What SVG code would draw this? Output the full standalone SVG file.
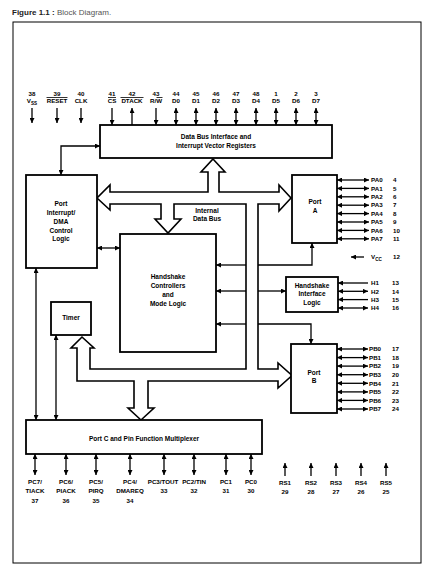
<svg xmlns="http://www.w3.org/2000/svg" width="429" height="577" viewBox="0 0 429 577">
<defs>
<marker id="ah" viewBox="0 0 10 10" refX="10" refY="5" markerWidth="5.5" markerHeight="5" markerUnits="userSpaceOnUse" orient="auto-start-reverse"><path d="M0,0 L10,5 L0,10 z" fill="#000"/></marker>
<style>
.box{fill:#fff;stroke:#000;stroke-width:1.8}
.bus{fill:#fff;stroke:#000;stroke-width:1.6;stroke-linejoin:miter}
.ln{fill:none;stroke:#000;stroke-width:1.3}
.ae{marker-end:url(#ah)}
.as{marker-start:url(#ah)}
.t{font-family:"Liberation Sans",Arial,sans-serif;font-weight:bold;font-size:6.5px;fill:#000;text-anchor:middle}
.p{font-family:"Liberation Sans",Arial,sans-serif;font-weight:bold;font-size:6.2px;fill:#000}
.m{text-anchor:middle}
.ov{stroke:#000;stroke-width:0.8}
</style>
</defs>
<rect width="429" height="577" fill="#fff"/>
<g id="title">
<text x="12" y="15" font-family="Liberation Sans,Arial,sans-serif" font-size="8" fill="#222"><tspan font-weight="bold">Figure 1.1 :</tspan><tspan fill="#555"> Block Diagram.</tspan></text>
</g>
<rect id="frame" x="13" y="22" width="408" height="541" fill="none" stroke="#000" stroke-width="1"/>

<g id="connectors">
<path class="bus" d="M213,159 L225,172 L219,172 L219,192 L279,192 L279,185 L291,198 L279,211 L279,204 L258,204 L258,369 L278,369 L278,363 L292,375.5 L278,388 L278,381 L148,381 L148,408 L154,408 L141,420 L128,408 L134,408 L134,381 L77,381 L77,348 L71,348 L82,337 L94,348 L90,348 L90,369 L246,369 L246,204 L174,204 L174,219 L181,219 L168,233 L155,219 L161,219 L161,204 L110,204 L110,210 L97,198 L110,185 L110,192 L208,192 L208,172 L201,172 Z"/>
<path class="ln ae as" d="M61,175 V146 H100"/>
<line class="ln ae as" x1="97" y1="248" x2="120" y2="248"/>
<line class="ln ae as" x1="36" y1="268" x2="36" y2="420"/>
<line class="ln ae as" x1="56" y1="335" x2="56" y2="420"/>
<line class="ln ae" x1="246" y1="265" x2="216" y2="265"/>
<line class="ln ae" x1="246" y1="291" x2="216" y2="291"/>
<line class="ln ae" x1="246" y1="324" x2="216" y2="324"/>
<path class="ln ae" d="M258,265 H312 V243"/>
<line class="ln ae" x1="258" y1="291" x2="286" y2="291"/>
<path class="ln ae" d="M258,324 H311 V344"/>
</g>

<g id="node-databus">
<rect class="box" x="100" y="125" width="232" height="33"/>
<text class="t" x="216" y="139">Data Bus Interface and</text>
<text class="t" x="216" y="147.5">Interrupt Vector Registers</text>
</g>
<g id="node-portint">
<rect class="box" x="26" y="175" width="71" height="93"/>
<text class="t" x="61" y="206">Port</text>
<text class="t" x="61" y="215">Interrupt/</text>
<text class="t" x="61" y="224">DMA</text>
<text class="t" x="61" y="233">Control</text>
<text class="t" x="61" y="241">Logic</text>
</g>
<g id="label-internal-bus">
<text class="t" x="207" y="213">Internal</text>
<text class="t" x="207" y="221">Data Bus</text>
</g>
<g id="node-hc">
<rect class="box" x="120" y="234" width="96" height="118"/>
<text class="t" x="168" y="279">Handshake</text>
<text class="t" x="168" y="288">Controllers</text>
<text class="t" x="168" y="297">and</text>
<text class="t" x="168" y="305.5">Mode Logic</text>
</g>
<g id="node-porta">
<rect class="box" x="292" y="175" width="45" height="68"/>
<text class="t" x="315" y="204">Port</text>
<text class="t" x="315" y="213">A</text>
</g>
<g id="node-hil">
<rect class="box" x="286" y="277" width="52" height="35"/>
<text class="t" x="312" y="288">Handshake</text>
<text class="t" x="312" y="296">Interface</text>
<text class="t" x="312" y="305">Logic</text>
</g>
<g id="node-portb">
<rect class="box" x="291" y="344" width="46" height="69"/>
<text class="t" x="314" y="375">Port</text>
<text class="t" x="314" y="383">B</text>
</g>
<g id="node-timer">
<rect class="box" x="51" y="302" width="40" height="33"/>
<text class="t" x="71" y="320">Timer</text>
</g>
<g id="node-portc">
<rect class="box" x="26" y="420" width="236" height="34"/>
<text class="t" x="144" y="441">Port C and Pin Function Multiplexer</text>
</g>

<g id="pins-top">
<g class="ln">
<line class="ae" x1="32" y1="108" x2="32" y2="123"/>
<line class="ae" x1="57" y1="108" x2="57" y2="123"/>
<line class="ae" x1="81" y1="108" x2="81" y2="123"/>
<line class="ae" x1="112" y1="108" x2="112" y2="125"/>
<line class="ae" x1="132" y1="125" x2="132" y2="108"/>
<line class="ae" x1="156" y1="108" x2="156" y2="125"/>
<line class="ae as" x1="176" y1="108" x2="176" y2="125"/>
<line class="ae as" x1="196" y1="108" x2="196" y2="125"/>
<line class="ae as" x1="216" y1="108" x2="216" y2="125"/>
<line class="ae as" x1="236" y1="108" x2="236" y2="125"/>
<line class="ae as" x1="256" y1="108" x2="256" y2="125"/>
<line class="ae as" x1="276" y1="108" x2="276" y2="125"/>
<line class="ae as" x1="296" y1="108" x2="296" y2="125"/>
<line class="ae as" x1="316" y1="108" x2="316" y2="125"/>
</g>
<g class="p m">
<text x="32" y="96">38</text><text x="57" y="96">39</text><text x="81" y="96">40</text>
<text x="112" y="96">41</text><text x="132" y="96">42</text><text x="156" y="96">43</text>
<text x="176" y="96">44</text><text x="196" y="96">45</text><text x="216" y="96">46</text>
<text x="236" y="96">47</text><text x="256" y="96">48</text><text x="276" y="96">1</text>
<text x="296" y="96">2</text><text x="316" y="96">3</text>
<text x="32" y="103">V<tspan font-size="4.6" dy="1.5">SS</tspan></text>
<text x="57" y="103">RESET</text><text x="81" y="103">CLK</text>
<text x="112" y="103">CS</text><text x="132" y="103">DTACK</text><text x="156" y="103">R/W</text>
<text x="176" y="103">D0</text><text x="196" y="103">D1</text><text x="216" y="103">D2</text>
<text x="236" y="103">D3</text><text x="256" y="103">D4</text><text x="276" y="103">D5</text>
<text x="296" y="103">D6</text><text x="316" y="103">D7</text>
</g>
<line class="ov" x1="46.5" y1="97.5" x2="67.5" y2="97.5"/>
<line class="ov" x1="108" y1="97.5" x2="116" y2="97.5"/>
<line class="ov" x1="120.5" y1="97.5" x2="143.5" y2="97.5"/>
<line class="ov" x1="156.5" y1="97.5" x2="162.5" y2="97.5"/>
</g>

<g id="pins-pa">
<g class="ln">
<line class="ae as" x1="337" y1="180" x2="369" y2="180"/>
<line class="ae as" x1="337" y1="188.4" x2="369" y2="188.4"/>
<line class="ae as" x1="337" y1="196.8" x2="369" y2="196.8"/>
<line class="ae as" x1="337" y1="205.2" x2="369" y2="205.2"/>
<line class="ae as" x1="337" y1="213.6" x2="369" y2="213.6"/>
<line class="ae as" x1="337" y1="222" x2="369" y2="222"/>
<line class="ae as" x1="337" y1="230.4" x2="369" y2="230.4"/>
<line class="ae as" x1="337" y1="238.8" x2="369" y2="238.8"/>
</g>
<g class="p">
<text x="371" y="182.2">PA0</text><text x="393" y="182.2">4</text>
<text x="371" y="190.6">PA1</text><text x="393" y="190.6">5</text>
<text x="371" y="199">PA2</text><text x="393" y="199">6</text>
<text x="371" y="207.4">PA3</text><text x="393" y="207.4">7</text>
<text x="371" y="215.8">PA4</text><text x="393" y="215.8">8</text>
<text x="371" y="224.2">PA5</text><text x="393" y="224.2">9</text>
<text x="371" y="232.6">PA6</text><text x="393" y="232.6">10</text>
<text x="371" y="241">PA7</text><text x="393" y="241">11</text>
</g>
</g>

<g id="pin-vcc">
<line class="ln ae" x1="364" y1="257" x2="351" y2="257"/>
<text class="p" x="371" y="259">V<tspan font-size="4.6" dy="1.5">CC</tspan></text>
<text class="p" x="393" y="259">12</text>
</g>

<g id="pins-h">
<g class="ln">
<line class="ae" x1="368" y1="283" x2="338" y2="283"/>
<line class="ae as" x1="338" y1="291.3" x2="368" y2="291.3"/>
<line class="ae" x1="368" y1="299.6" x2="338" y2="299.6"/>
<line class="ae as" x1="338" y1="308" x2="368" y2="308"/>
</g>
<g class="p">
<text x="371" y="285.2">H1</text><text x="392" y="285.2">13</text>
<text x="371" y="293.5">H2</text><text x="392" y="293.5">14</text>
<text x="371" y="301.8">H3</text><text x="392" y="301.8">15</text>
<text x="371" y="310.2">H4</text><text x="392" y="310.2">16</text>
</g>
</g>

<g id="pins-pb">
<g class="ln">
<line class="ae as" x1="337" y1="349" x2="368" y2="349"/>
<line class="ae as" x1="337" y1="357.6" x2="368" y2="357.6"/>
<line class="ae as" x1="337" y1="366.1" x2="368" y2="366.1"/>
<line class="ae as" x1="337" y1="374.7" x2="368" y2="374.7"/>
<line class="ae as" x1="337" y1="383.3" x2="368" y2="383.3"/>
<line class="ae as" x1="337" y1="391.9" x2="368" y2="391.9"/>
<line class="ae as" x1="337" y1="400.4" x2="368" y2="400.4"/>
<line class="ae as" x1="337" y1="409" x2="368" y2="409"/>
</g>
<g class="p">
<text x="369" y="351.2">PB0</text><text x="392" y="351.2">17</text>
<text x="369" y="359.8">PB1</text><text x="392" y="359.8">18</text>
<text x="369" y="368.3">PB2</text><text x="392" y="368.3">19</text>
<text x="369" y="376.9">PB3</text><text x="392" y="376.9">20</text>
<text x="369" y="385.5">PB4</text><text x="392" y="385.5">21</text>
<text x="369" y="394.1">PB5</text><text x="392" y="394.1">22</text>
<text x="369" y="402.6">PB6</text><text x="392" y="402.6">23</text>
<text x="369" y="411.2">PB7</text><text x="392" y="411.2">24</text>
</g>
</g>

<g id="pins-pc">
<g class="ln">
<line class="ae as" x1="35" y1="454" x2="35" y2="475"/>
<line class="ae as" x1="66" y1="454" x2="66" y2="475"/>
<line class="ae as" x1="96" y1="454" x2="96" y2="475"/>
<line class="ae as" x1="130" y1="454" x2="130" y2="475"/>
<line class="ae as" x1="164" y1="454" x2="164" y2="475"/>
<line class="ae as" x1="194" y1="454" x2="194" y2="475"/>
<line class="ae as" x1="226" y1="454" x2="226" y2="475"/>
<line class="ae as" x1="251" y1="454" x2="251" y2="475"/>
</g>
<g class="p m">
<text x="35" y="484">PC7/</text><text x="35" y="493">TIACK</text><text x="35" y="503">37</text>
<text x="66" y="484">PC6/</text><text x="66" y="493">PIACK</text><text x="66" y="503">36</text>
<text x="96" y="484">PC5/</text><text x="96" y="493">PIRQ</text><text x="96" y="503">35</text>
<text x="130" y="484">PC4/</text><text x="130" y="493">DMAREQ</text><text x="130" y="503">34</text>
<text x="163" y="484">PC3/TOUT</text><text x="164" y="493">33</text>
<text x="194" y="484">PC2/TIN</text><text x="194" y="493">32</text>
<text x="226" y="484">PC1</text><text x="226" y="493">31</text>
<text x="251" y="484">PC0</text><text x="251" y="493">30</text>
</g>
</g>

<g id="pins-rs">
<g class="ln">
<line class="ae" x1="285" y1="476" x2="285" y2="463"/>
<line class="ae" x1="311" y1="476" x2="311" y2="463"/>
<line class="ae" x1="336" y1="476" x2="336" y2="463"/>
<line class="ae" x1="361" y1="476" x2="361" y2="463"/>
<line class="ae" x1="386" y1="476" x2="386" y2="463"/>
</g>
<g class="p m">
<text x="285" y="485">RS1</text><text x="285" y="494">29</text>
<text x="311" y="485">RS2</text><text x="311" y="494">28</text>
<text x="336" y="485">RS3</text><text x="336" y="494">27</text>
<text x="361" y="485">RS4</text><text x="361" y="494">26</text>
<text x="386" y="485">RS5</text><text x="386" y="494">25</text>
</g>
</g>
</svg>
